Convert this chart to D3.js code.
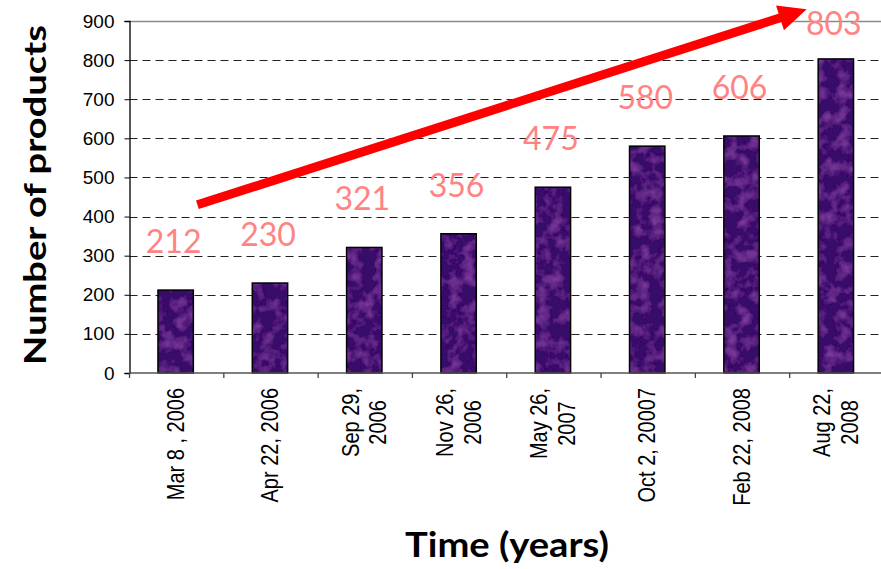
<!DOCTYPE html>
<html>
<head>
<meta charset="utf-8">
<script src="https://cdn.jsdelivr.net/npm/d3@7"></script>
<style>
  html, body { margin: 0; padding: 0; background: #fff; }
  svg { display: block; }
</style>
</head>
<body>
<script>
// Product count per release date
const categories = [
  ["Mar 8 , 2006"],
  ["Apr 22, 2006"],
  ["Sep 29,", "2006"],
  ["Nov 26,", "2006"],
  ["May 26,", "2007"],
  ["Oct 2, 20007"],
  ["Feb 22, 2008"],
  ["Aug 22,", "2008"]
];
const products = [212, 230, 321, 356, 475, 580, 606, 803];
const yTicks = [0, 100, 200, 300, 400, 500, 600, 700, 800, 900];
// Trend arrow, given as [category position, value] pairs
const trendStart = [0.72, 430];
const trendEnd = [7.18, 930];

const W = 881, H = 569;
const svg = d3.select("body").append("svg").attr("width", W).attr("height", H);

const keys = categories.map(c => c.join(" "));
const x = d3.scaleBand().domain(keys).range([129.5, 884]).padding(0);
const xPos = d3.scaleLinear().domain([0, keys.length]).range([129.5, 884]);
const y = d3.scaleLinear().domain([0, 900]).range([373, 21]);

// mottled purple texture for the bars
const defs = svg.append("defs");
const f = defs.append("filter").attr("id", "mottle")
  .attr("x", 0).attr("y", 0).attr("width", 1).attr("height", 1);
f.append("feTurbulence").attr("type", "fractalNoise").attr("baseFrequency", 0.08)
  .attr("numOctaves", 3).attr("seed", 7).attr("result", "noise");
f.append("feColorMatrix").attr("in", "noise").attr("type", "matrix")
  .attr("values", "0 0 0 0 0.40  0 0 0 0 0.09  0 0 0 0 0.55  0 0 0 1.0 -0.42")
  .attr("result", "spots");
f.append("feComposite").attr("in", "spots").attr("in2", "SourceGraphic")
  .attr("operator", "in").attr("result", "clip");
const fm = f.append("feMerge");
fm.append("feMergeNode").attr("in", "SourceGraphic");
fm.append("feMergeNode").attr("in", "clip");

// gridlines
svg.append("g").selectAll("line")
  .data(yTicks.filter(t => t > 0 && t < 900))
  .join("line")
  .attr("x1", 129.5).attr("x2", 884)
  .attr("y1", d => Math.round(y(d)) + 0.5).attr("y2", d => Math.round(y(d)) + 0.5)
  .attr("stroke", "#222").attr("stroke-width", 1.1)
  .attr("stroke-dasharray", "8,5");

// top border
svg.append("line")
  .attr("x1", 129.5).attr("x2", 884)
  .attr("y1", Math.round(y(900)) + 0.5).attr("y2", Math.round(y(900)) + 0.5)
  .attr("stroke", "#8a8a8a").attr("stroke-width", 1.5);

// bars
const bw = x.bandwidth() * 0.375;
const bars = svg.append("g");
bars.selectAll("rect.fill")
  .data(products)
  .join("rect").attr("class", "fill")
  .attr("x", (d, i) => x(keys[i]) + x.bandwidth() / 2 - bw / 2 - 1)
  .attr("y", d => y(d))
  .attr("width", bw)
  .attr("height", d => y(0) - y(d))
  .attr("fill", "#380b6a")
  .attr("filter", "url(#mottle)");
bars.selectAll("rect.edge")
  .data(products)
  .join("rect").attr("class", "edge")
  .attr("x", (d, i) => x(keys[i]) + x.bandwidth() / 2 - bw / 2 - 1)
  .attr("y", d => y(d))
  .attr("width", bw)
  .attr("height", d => y(0) - y(d))
  .attr("fill", "none")
  .attr("stroke", "#000").attr("stroke-width", 1.5);

// y axis
const yAxis = d3.axisLeft(y).tickValues(yTicks).tickSize(5).tickPadding(10);
const gy = svg.append("g").attr("transform", "translate(129.5,0)").call(yAxis);
gy.select(".domain").attr("stroke", "#000").attr("stroke-width", 1.3);
gy.selectAll(".tick line").attr("stroke", "#000");
gy.selectAll("text")
  .attr("font-family", "'Liberation Sans', Arial, sans-serif")
  .attr("font-size", 19).attr("fill", "#000");

// x axis baseline and ticks between categories
svg.append("line")
  .attr("x1", 129.5).attr("x2", 884)
  .attr("y1", y(0)).attr("y2", y(0))
  .attr("stroke", "#555").attr("stroke-width", 1.5);
svg.append("g").selectAll("line")
  .data(d3.range(keys.length + 1))
  .join("line")
  .attr("x1", i => xPos(i)).attr("x2", i => xPos(i))
  .attr("y1", y(0)).attr("y2", y(0) + 5)
  .attr("stroke", "#444").attr("stroke-width", 1.3);

// rotated category labels, each line centred on the longest one
const labelTop = 388;
const lineGap = 23.5;
const xl = svg.append("g");
categories.forEach((lines, i) => {
  const cx = x(keys[i]) + x.bandwidth() / 2 - 1;
  const g = xl.append("g")
    .attr("transform", `translate(${cx},${labelTop}) rotate(-90) scale(1,1.18)`);
  const texts = lines.map((s, j) => g.append("text")
    .attr("font-family", "'Liberation Sans', Arial, sans-serif")
    .attr("font-size", 20).attr("fill", "#000")
    .attr("text-anchor", "middle")
    .attr("y", (j - (lines.length - 1) / 2) * lineGap + 7)
    .text(s));
  const maxLen = d3.max(texts, t => t.node().getComputedTextLength());
  texts.forEach(t => t.attr("x", -maxLen / 2));
});

// value labels
svg.append("g").selectAll("text")
  .data(products)
  .join("text")
  .attr("x", (d, i) => x(keys[i]) + x.bandwidth() / 2 - 3)
  .attr("y", d => Math.max(y(d) - 37, y(900) + 14))
  .attr("text-anchor", "middle")
  .attr("font-family", "Lato, 'Open Sans', sans-serif")
  .attr("font-size", 32)
  .attr("fill", "#ff8383")
  .text(d => d);

// trend arrow
const sx = xPos(trendStart[0]), sy = y(trendStart[1]);
const ex = xPos(trendEnd[0]), ey = y(trendEnd[1]);
const ang = Math.atan2(ey - sy, ex - sx);
const headLen = 28, headHalf = 13;
const bx = ex - headLen * Math.cos(ang), by = ey - headLen * Math.sin(ang);
svg.append("line")
  .attr("x1", sx).attr("y1", sy).attr("x2", bx + 2 * Math.cos(ang)).attr("y2", by + 2 * Math.sin(ang))
  .attr("stroke", "#ff0000").attr("stroke-width", 9);
svg.append("path")
  .attr("d", d3.line()([
    [ex, ey],
    [bx - headHalf * Math.sin(ang), by + headHalf * Math.cos(ang)],
    [bx + headHalf * Math.sin(ang), by - headHalf * Math.cos(ang)]
  ]) + "Z")
  .attr("fill", "#ff0000");

// axis titles
svg.append("text")
  .attr("transform", "translate(46,195) rotate(-90)")
  .attr("text-anchor", "middle")
  .attr("font-family", "Lato, 'Open Sans', sans-serif")
  .attr("font-weight", "bold")
  .attr("font-size", 30)
  .attr("textLength", 340)
  .attr("lengthAdjust", "spacingAndGlyphs")
  .attr("fill", "#000")
  .text("Number of products");

svg.append("text")
  .attr("x", 507).attr("y", 557)
  .attr("text-anchor", "middle")
  .attr("font-family", "Lato, 'Open Sans', sans-serif")
  .attr("font-weight", "bold")
  .attr("font-size", 34)
  .attr("textLength", 204)
  .attr("lengthAdjust", "spacingAndGlyphs")
  .attr("fill", "#000")
  .text("Time (years)");
</script>
</body>
</html>
